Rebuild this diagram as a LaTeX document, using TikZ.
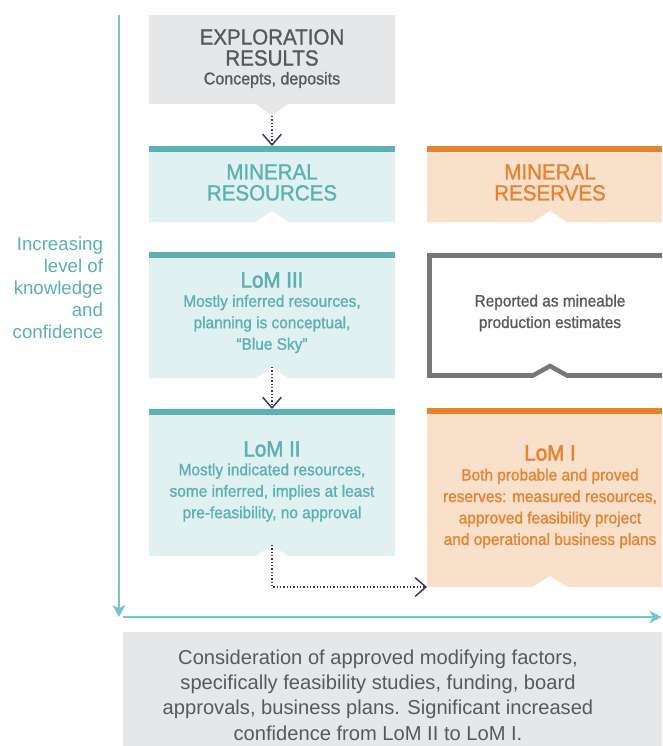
\documentclass[tikz,border=0pt]{standalone}
\usepackage{fontspec}
\setmainfont{Liberation Sans}
\newfontfamily\condmed{Liberation Sans}[FakeStretch=0.94,FakeBold=1.1]
\newfontfamily\condheavy{Liberation Sans}[FakeStretch=0.94,FakeBold=2.2]
\usetikzlibrary{arrows.meta}
\definecolor{cTeal}{HTML}{5BB0B4}
\definecolor{cLTeal}{HTML}{E1F0F0}
\definecolor{cAxis}{HTML}{74C6D0}
\definecolor{cOrange}{HTML}{E8822E}
\definecolor{cPeach}{HTML}{F9E0CB}
\definecolor{cGreyBox}{HTML}{E6E7E8}
\definecolor{cText}{HTML}{58595B}
\definecolor{cBorder}{HTML}{77777B}
\definecolor{cNavy}{HTML}{3B3369}
\newcommand\fCaps{\condmed\fontsize{16.4pt}{15.75pt}\selectfont}
\newcommand\fSub{\condmed\fontsize{12.8pt}{16pt}\selectfont}
\newcommand\fBody{\condmed\fontsize{12.3pt}{16.1pt}\selectfont}
\newcommand\fLom{\condheavy\fontsize{16.4pt}{16pt}\selectfont}
\newcommand\fSide{\fontsize{14pt}{16.5pt}\selectfont}
\newcommand\fFoot{\fontsize{15.1pt}{18.9pt}\selectfont}
\begin{document}
\begin{tikzpicture}[x=0.75pt,y=-0.75pt,
  txt/.style={inner sep=0pt,outer sep=0pt,align=center},
  axisline/.style={draw=cAxis,line width=2pt,-{Stealth[length=9pt,width=9.5pt,inset=2.5pt]}},
  conn/.style={draw=cNavy,line width=0.9pt,dash pattern=on 0.9pt off 1.6pt,
    -{Straight Barb[length=8pt,width=14pt,line width=1.1pt]}}]
\useasboundingbox (0,0) rectangle (662,746);
\clip (0,0) rectangle (662,746);

% ---- Exploration results
\fill[cGreyBox] (149,15) -- (395,15) -- (395,104) -- (288,104) -- (272,116) -- (256,104) -- (149,104) -- cycle;
\coordinate (expTip) at (272,116);
\node[txt,text=cText,font=\fCaps] (expTitle) at (272,47.5) {EXPLORATION\\RESULTS};
\node[txt,text=cText,font=\fSub] (expSub) at (272,80) {Concepts, deposits};

% ---- Mineral resources
\fill[cLTeal] (149,146) -- (395,146) -- (395,222) -- (288,222) -- (272,211) -- (256,222) -- (149,222) -- cycle;
\fill[cTeal] (149,146) rectangle (395,152);
\coordinate (resTop) at (272,146);
\node[txt,text=cTeal,font=\fCaps] (resTitle) at (272,182.5) {MINERAL\\RESOURCES};

% ---- Mineral reserves
\fill[cPeach] (427,146) -- (662,146) -- (662,222) -- (567,222) -- (550,211) -- (533,222) -- (427,222) -- cycle;
\fill[cOrange] (427,146) rectangle (662,152);
\node[txt,text=cOrange,font=\fCaps] (rsvTitle) at (550,182.5) {MINERAL\\RESERVES};

% ---- LoM III
\fill[cLTeal] (149,252) -- (395,252) -- (395,378) -- (288,378) -- (272,367) -- (256,378) -- (149,378) -- cycle;
\fill[cTeal] (149,252) rectangle (395,257.5);
\coordinate (l3Tip) at (272,367);
\node[txt,text=cTeal,font=\fLom] (l3Title) at (272,280) {LoM III};
\node[txt,text=cTeal,font=\fBody] (l3Body) at (272,324) {Mostly inferred resources,\\planning is conceptual,\\“Blue Sky”};

% ---- Reported box
\draw[cBorder,line width=3.4pt,line join=miter]
  (670,255.5) -- (429.5,255.5) -- (429.5,375.5) -- (533,375.5) -- (550,366) -- (567,375.5) -- (670,375.5);
\node[txt,text=cText,font=\fBody] (repText) at (550,313) {Reported as mineable\\production estimates};

% ---- LoM II
\fill[cLTeal] (149,409) -- (395,409) -- (395,556) -- (288,556) -- (272,545) -- (256,556) -- (149,556) -- cycle;
\fill[cTeal] (149,409) rectangle (395,414.5);
\coordinate (l2Top) at (272,409);
\coordinate (l2Tip) at (272,545);
\node[txt,text=cTeal,font=\fLom] (l2Title) at (272,449) {LoM II};
\node[txt,text=cTeal,font=\fBody] (l2Body) at (272,492.5) {Mostly indicated resources,\\some inferred, implies at least\\pre-feasibility, no approval};

% ---- LoM I
\fill[cPeach] (427,408) -- (662,408) -- (662,587) -- (567,587) -- (550,576) -- (533,587) -- (427,587) -- cycle;
\fill[cOrange] (427,408) rectangle (662,414);
\coordinate (l1Corner) at (427,587);
\node[txt,text=cOrange,font=\fLom] (l1Title) at (550,453) {LoM I};
\node[txt,text=cOrange,font=\fBody] (l1Body) at (550,508.5) {Both probable and proved\\reserves: measured resources,\\approved feasibility project\\and operational business plans};

% ---- connectors
\draw[conn] (expTip) -- (resTop);
\draw[conn] (l3Tip) -- (l2Top);
\draw[conn] (l2Tip) |- (l1Corner);

% ---- axes
\coordinate (vTop) at (119,15);
\coordinate (vBot) at (119,617);
\coordinate (hLeft) at (123,617);
\coordinate (hRight) at (661.5,617);
\draw[axisline] (vTop) -- (vBot);
\draw[axisline] (hLeft) -- (hRight);
\node[txt,align=right,anchor=east,text=cTeal,font=\fSide] (sideLabel) at (103,287.5) {Increasing\\level of\\knowledge\\and\\confidence};

% ---- bottom box
\fill[cGreyBox] (123,632) rectangle (662,746);
\node[txt,text=cText,font=\fFoot] (footText) at (378,695) {Consideration of approved modifying factors,\\specifically feasibility studies, funding, board\\approvals, business plans. Significant increased\\confidence from LoM II to LoM I.};
\end{tikzpicture}
\end{document}
